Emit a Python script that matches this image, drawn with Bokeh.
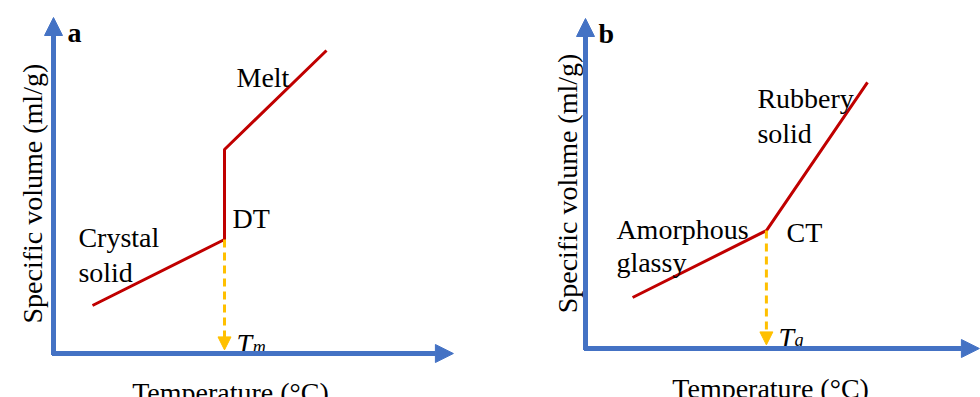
from bokeh.plotting import figure
from bokeh.layouts import gridplot
from bokeh.models import Range1d, Arrow, NormalHead
from bokeh.core.properties import value
from bokeh.embed import file_html
from bokeh.resources import INLINE

# ---- data (schematic units) ----
# (a) crystalline polymer: solid -> discontinuous jump at Tm -> melt
temp_a = [1.3, 5.7, 5.7, 9.1]
vol_a = [1.6, 3.8, 6.8, 10.1]
tm_a = 5.7
tm_vol_a = 3.8

# (b) amorphous polymer: glassy -> change of slope at Tg -> rubbery
temp_b = [1.57, 6.03, 9.4]
vol_b = [1.7, 3.93, 8.87]
tg_b = 6.03
tg_vol_b = 3.93

x_label = "Temperature (°C)"
y_label = "Specific volume (ml/g)"

labels_a = ["Melt", "DT", "Crystal", "solid"]
labels_b = ["Rubbery", "solid", "Amorphous", "glassy", "CT"]

FACE = "Liberation Serif"
SIZE = "28px"
RED = "#C00000"
BLUE = "#4472C4"
ORANGE = "#FFC000"


def make_panel(x_range, y_range, x_end, y_end):
    p = figure(width=490, height=397, x_range=x_range, y_range=y_range,
               output_backend="svg", toolbar_location=None, min_border=0)
    p.axis.visible = False
    p.grid.visible = False
    p.outline_line_color = None
    # hand-drawn axes with arrow heads
    p.add_layout(Arrow(end=NormalHead(size=18, fill_color=BLUE, line_color=BLUE),
                       x_start=-0.05, y_start=0, x_end=x_end, y_end=0,
                       line_color=BLUE, line_width=5))
    p.add_layout(Arrow(end=NormalHead(size=18, fill_color=BLUE, line_color=BLUE),
                       x_start=0, y_start=-0.05, x_end=0, y_end=y_end,
                       line_color=BLUE, line_width=5))
    return p


def transition_arrow(p, x, y_top):
    p.add_layout(Arrow(end=NormalHead(size=13, fill_color=ORANGE, line_color=ORANGE),
                       x_start=x, y_start=y_top, x_end=x, y_end=0.12,
                       line_color=ORANGE, line_width=3, line_dash="8 5"))


def label(p, x, y, txt, size=SIZE, style="normal", align="left", angle=0.0):
    p.text(x=[x], y=[y], text=[txt], text_font=value(FACE), text_font_size=size,
           text_font_style=style, text_align=align, text_baseline="alphabetic",
           angle=angle)


# ---------------- panel a ----------------
pa = make_panel(Range1d(-53 / 30, 437 / 30), Range1d(-44 / 30, 353 / 30), 13.33, 11.2)
transition_arrow(pa, tm_a, tm_vol_a)
pa.line(temp_a, vol_a, line_color=RED, line_width=3)
for x, y, t in zip([6.1, 5.97, 0.83, 0.83], [9.2, 4.5, 3.87, 2.7], labels_a):
    label(pa, x, y, t)
label(pa, 0.47, 10.7, "a", style="bold")
label(pa, 6.1, 0.33, "T", style="italic")
label(pa, 6.64, 0.23, "m", size="18px", style="italic")
label(pa, 5.9, -1.3, x_label, align="center")
label(pa, -0.7, 5.33, y_label, align="center", angle=1.5708)

# ---------------- panel b ----------------
pb = make_panel(Range1d(-95 / 30, 395 / 30), Range1d(-49 / 30, 348 / 30), 13.13, 11.0)
transition_arrow(pb, tg_b, tg_vol_b)
pb.line(temp_b, vol_b, line_color=RED, line_width=3)
for x, y, t in zip([5.73, 5.73, 1.03, 1.03, 6.7], [8.33, 7.17, 3.97, 2.87, 3.87], labels_b):
    label(pb, x, y, t)
label(pb, 0.43, 10.5, "b", style="bold")
label(pb, 6.43, 0.37, "T", style="italic")
label(pb, 6.97, 0.3, "g", size="18px", style="italic")
label(pb, 6.17, -1.33, x_label, align="center")
label(pb, -0.6, 5.5, y_label, align="center", angle=1.5708)

layout = gridplot([[pa, pb]], toolbar_location=None)
open("out.html", "w").write(file_html(layout, INLINE))
